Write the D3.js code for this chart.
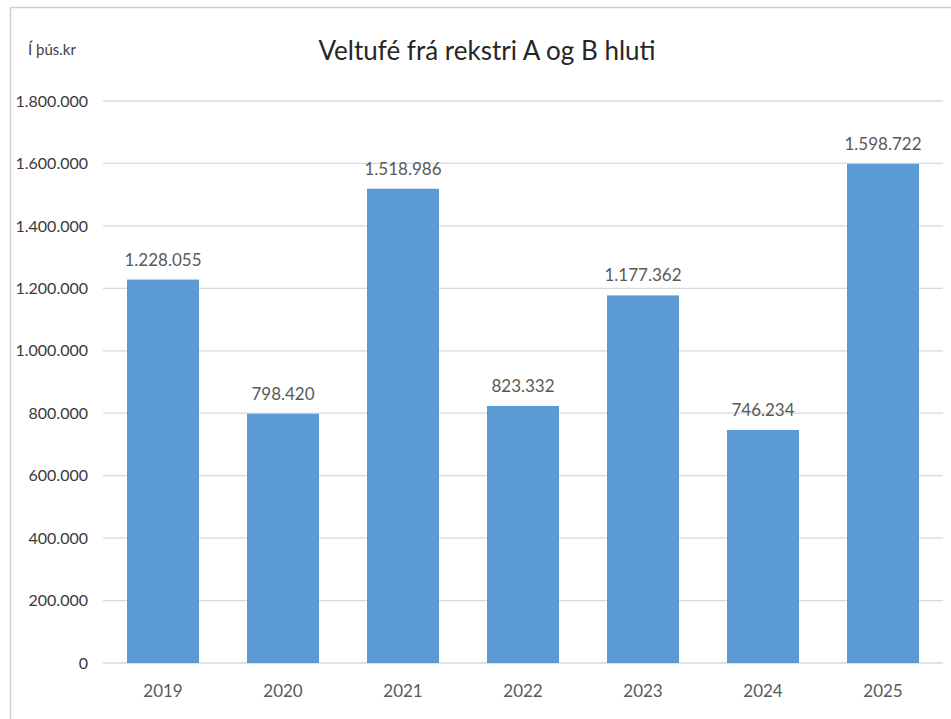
<!DOCTYPE html>
<html lang="is">
    <head>
        <meta charset="utf-8">
        <title>Veltufé frá rekstri</title>
        <script src="https://d3js.org/d3.v7.min.js"></script>
        <style type="text/css">
            body { margin: 0; background: white; }
            text { font-family: Lato, "Open Sans", sans-serif; }
            .grid line { stroke: #d9d9d9; stroke-width: 1.3px; }
            .axis text { fill: #595959; font-size: 17px; }
            .yaxis text { fill: #3a3a3a; font-size: 16px; }
            .bar { fill: #5b9bd5; }
            .value { fill: #595959; font-size: 17px; }
        </style>
    </head>
    <body>
        <script type="text/javascript">
            const years = ["2019", "2020", "2021", "2022", "2023", "2024", "2025"];
            const values = [1228055, 798420, 1518986, 823332, 1177362, 746234, 1598722];
            const yTicks = [0, 200000, 400000, 600000, 800000, 1000000, 1200000, 1400000, 1600000, 1800000];

            const w = 951, h = 719;
            const plotLeft = 103, plotRight = 943, plotTop = 101, plotBottom = 663;

            const fmt = d3.formatLocale({decimal: ",", thousands: ".", grouping: [3], currency: ["", ""]}).format(",d");

            const svg = d3.select("body").append("svg")
                .attr("width", w)
                .attr("height", h);

            // frame (left + top edges visible)
            svg.append("path")
                .attr("d", "M10.5," + h + "V7.5H" + w)
                .attr("fill", "none")
                .attr("stroke", "#d0d0d0")
                .attr("stroke-width", 1.5);

            const x = d3.scaleBand().domain(years).range([plotLeft, plotRight]).paddingInner(0.4).paddingOuter(0.2);
            const y = d3.scaleLinear().domain([0, 1800000]).range([plotBottom, plotTop]);

            // gridlines
            svg.append("g")
                .attr("class", "grid")
                .selectAll("line")
                .data(yTicks)
                .join("line")
                .attr("x1", plotLeft)
                .attr("x2", plotRight)
                .attr("y1", d => y(d))
                .attr("y2", d => y(d));

            // left axis labels
            const leftAxis = d3.axisLeft(y).tickValues(yTicks).tickFormat(fmt).tickSize(0).tickPadding(14);
            svg.append("g")
                .attr("class", "yaxis")
                .attr("transform", "translate(" + (plotLeft - 1) + ",0)")
                .call(leftAxis)
                .call(g => g.select(".domain").remove());

            // bottom axis labels
            const bottomAxis = d3.axisBottom(x).tickSize(0).tickPadding(22);
            svg.append("g")
                .attr("class", "axis")
                .attr("transform", "translate(0," + plotBottom + ")")
                .call(bottomAxis)
                .call(g => g.select(".domain").remove());

            // bars
            svg.selectAll(".bar")
                .data(values)
                .join("rect")
                .attr("class", "bar")
                .attr("x", (d, i) => x(years[i]))
                .attr("width", x.bandwidth())
                .attr("y", d => y(d))
                .attr("height", d => y(0) - y(d));

            // value labels
            svg.selectAll(".value")
                .data(values)
                .join("text")
                .attr("class", "value")
                .attr("x", (d, i) => x(years[i]) + x.bandwidth() / 2)
                .attr("y", d => y(d) - 14)
                .attr("text-anchor", "middle")
                .text(d => fmt(d));

            // title
            svg.append("text")
                .attr("x", 487)
                .attr("y", 60)
                .attr("text-anchor", "middle")
                .attr("font-size", 26)
                .attr("fill", "#262626")
                .text("Veltufé frá rekstri A og B hluti");

            // unit label
            svg.append("text")
                .attr("x", 28)
                .attr("y", 55)
                .attr("font-size", 15)
                .attr("fill", "#404040")
                .text("Í þús.kr");
        </script>
    </body>
</html>
